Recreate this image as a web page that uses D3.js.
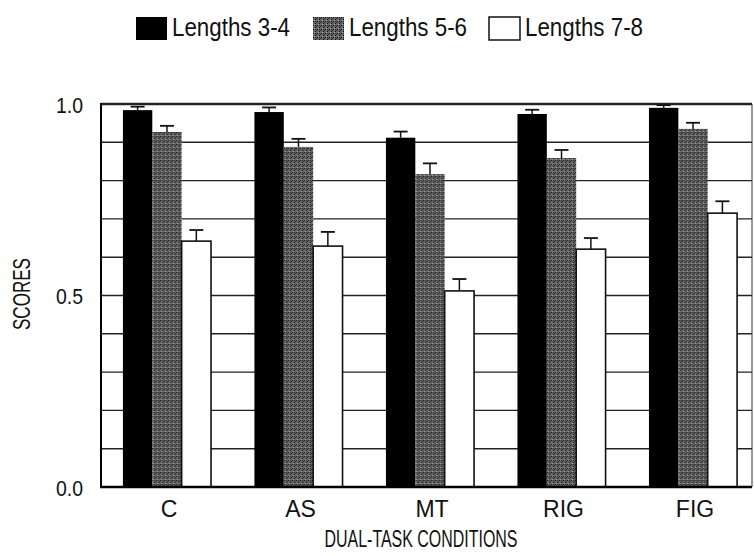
<!DOCTYPE html>
<html>
<head>
<meta charset="utf-8">
<script src="https://cdn.jsdelivr.net/npm/d3@7"></script>
<style>
    body { margin: 0; background: #fff; }
    text { font-family: "Liberation Sans", Arial, sans-serif; fill: #111; }
</style>
</head>
<body>
<div id="chart"></div>
<script>
// Conditions on the x axis
var conditions = ["C", "AS", "MT", "RIG", "FIG"];
// Series (list lengths)
var series = ["Lengths 3-4", "Lengths 5-6", "Lengths 7-8"];

// Mean scores per condition, one array per series
var scores34 = [0.984, 0.979, 0.912, 0.974, 0.990];
var scores56 = [0.927, 0.888, 0.817, 0.859, 0.935];
var scores78 = [0.642, 0.629, 0.512, 0.621, 0.715];

// Error bar sizes (upper half only)
var err34 = [0.009, 0.012, 0.016, 0.011, 0.007];
var err56 = [0.016, 0.021, 0.028, 0.021, 0.016];
var err78 = [0.029, 0.037, 0.031, 0.029, 0.031];

// Tick labels on the y axis
var yTicks = [0, 0.5, 1];
var yTickLabels = ["0.0", "0.5", "1.0"];
// Horizontal grid lines
var gridValues = [0.1, 0.2, 0.3, 0.4, 0.5, 0.6, 0.7, 0.8, 0.9, 1.0];

var width, height, svg, xScale, xInner, yScale;

function buildData() {
    var means = [scores34, scores56, scores78];
    var errs = [err34, err56, err78];
    var data = [];
    conditions.forEach(function (c, i) {
        series.forEach(function (s, j) {
            data.push({ condition: c, series: s, value: means[j][i], err: errs[j][i] });
        });
    });
    return data;
}

function fillFor(s) {
    if (s == series[0]) return "#000";
    if (s == series[1]) return "url(#mottle)";
    return "#fff";
}

function drawChart() {
    var data = buildData();
    var left = 101, right = 752, top = 104, bottom = 487;

    xScale = d3.scaleBand()
        .domain(conditions)
        .range([left, right])
        .paddingInner(0.33)
        .paddingOuter(0.14)
        .align(0.595);

    xInner = d3.scaleBand()
        .domain(series)
        .range([0, xScale.bandwidth()]);

    yScale = d3.scaleLinear()
        .domain([0, 1])
        .range([bottom, top]);

    // grey texture for the middle series (dark speckled halftone)
    var defs = svg.append("defs");
    var pat = defs.append("pattern")
        .attr("id", "mottle")
        .attr("width", 4)
        .attr("height", 4)
        .attr("patternUnits", "userSpaceOnUse");
    pat.append("rect").attr("width", 4).attr("height", 4).attr("fill", "#666");
    pat.append("rect").attr("width", 1).attr("height", 1).attr("fill", "#111");
    pat.append("rect").attr("x", 2).attr("y", 2).attr("width", 1).attr("height", 1).attr("fill", "#111");
    pat.append("rect").attr("x", 1).attr("y", 3).attr("width", 1).attr("height", 1).attr("fill", "#aaa");
    pat.append("rect").attr("x", 3).attr("y", 1).attr("width", 1).attr("height", 1).attr("fill", "#2a2a2a");
    pat.append("rect").attr("x", 2).attr("y", 0).attr("width", 1).attr("height", 1).attr("fill", "#333");

    // grid lines
    svg.append("g")
        .selectAll("line")
        .data(gridValues)
        .enter()
        .append("line")
        .attr("x1", left)
        .attr("x2", right)
        .attr("y1", function (d) { return yScale(d); })
        .attr("y2", function (d) { return yScale(d); })
        .attr("stroke", "#222")
        .attr("stroke-width", function (d) { return d == 1 ? 2.5 : 1.4; });

    // right edge of the frame
    svg.append("line")
        .attr("x1", right).attr("x2", right)
        .attr("y1", top).attr("y2", bottom)
        .attr("stroke", "#333")
        .attr("stroke-width", 1);

    // bars
    var groups = svg.append("g")
        .selectAll("g")
        .data(data)
        .enter()
        .append("g")
        .attr("transform", function (d) {
            return "translate(" + (xScale(d.condition) + xInner(d.series)) + ",0)";
        });

    groups.append("rect")
        .attr("x", 0)
        .attr("width", xInner.bandwidth())
        .attr("y", function (d) { return yScale(d.value); })
        .attr("height", function (d) { return yScale(0) - yScale(d.value); })
        .attr("fill", function (d) { return fillFor(d.series); })
        .attr("stroke", function (d) { return d.series == series[2] ? "#111" : "none"; })
        .attr("stroke-width", 1.6);

    // error bars, upward only
    var capHalf = 7;
    groups.append("line")
        .attr("x1", xInner.bandwidth() / 2)
        .attr("x2", xInner.bandwidth() / 2)
        .attr("y1", function (d) { return yScale(d.value); })
        .attr("y2", function (d) { return yScale(d.value + d.err); })
        .attr("stroke", "#111")
        .attr("stroke-width", 1.5);
    groups.append("line")
        .attr("x1", xInner.bandwidth() / 2 - capHalf)
        .attr("x2", xInner.bandwidth() / 2 + capHalf)
        .attr("y1", function (d) { return yScale(d.value + d.err); })
        .attr("y2", function (d) { return yScale(d.value + d.err); })
        .attr("stroke", "#111")
        .attr("stroke-width", 1.8);

    // axes lines
    svg.append("line")
        .attr("x1", left).attr("x2", left)
        .attr("y1", top - 1).attr("y2", bottom + 1)
        .attr("stroke", "#000").attr("stroke-width", 2);
    svg.append("line")
        .attr("x1", left - 1).attr("x2", right)
        .attr("y1", bottom).attr("y2", bottom)
        .attr("stroke", "#000").attr("stroke-width", 2.5);

    // y tick labels
    svg.append("g")
        .selectAll("text")
        .data(yTicks)
        .enter()
        .append("text")
        .attr("x", 83)
        .attr("y", function (d) { return yScale(d) + 3; })
        .attr("text-anchor", "end")
        .attr("dominant-baseline", "middle")
        .attr("textLength", 27)
        .attr("lengthAdjust", "spacingAndGlyphs")
        .style("font-size", "22px")
        .text(function (d, i) { return yTickLabels[i]; });

    // x category labels
    svg.append("g")
        .selectAll("text")
        .data(conditions)
        .enter()
        .append("text")
        .attr("x", function (d) { return xScale(d) + xScale.bandwidth() / 2 + 2; })
        .attr("y", 517)
        .attr("text-anchor", "middle")
        .style("font-size", "23px")
        .style("font-stretch", "condensed")
        .text(function (d) { return d; });

    // axis titles
    svg.append("text")
        .attr("x", 421)
        .attr("y", 547)
        .attr("text-anchor", "middle")
        .attr("textLength", 193)
        .attr("lengthAdjust", "spacingAndGlyphs")
        .style("font-size", "23px")
        .text("DUAL-TASK CONDITIONS");

    svg.append("text")
        .attr("transform", "translate(30,294) rotate(-90)")
        .attr("text-anchor", "middle")
        .attr("textLength", 72)
        .attr("lengthAdjust", "spacingAndGlyphs")
        .style("font-size", "23px")
        .text("SCORES");

    drawLegend();
}

function drawLegend() {
    var legendX = [136, 313, 489];
    var item = svg.append("g")
        .selectAll("g")
        .data(series)
        .enter()
        .append("g")
        .attr("transform", function (d, i) { return "translate(" + legendX[i] + ",17)"; });

    item.append("rect")
        .attr("width", 31)
        .attr("height", 23)
        .attr("fill", function (d) { return fillFor(d); })
        .attr("stroke", function (d) { return d == series[2] ? "#111" : "none"; })
        .attr("stroke-width", 1.5);

    item.append("text")
        .attr("x", 36)
        .attr("y", 12)
        .attr("dominant-baseline", "middle")
        .attr("textLength", 118)
        .attr("lengthAdjust", "spacingAndGlyphs")
        .style("font-size", "25px")
        .text(function (d) { return d; });
}

function init() {
    width = 754;
    height = 556;

    svg = d3.select("#chart")
        .append("svg")
        .attr("width", width)
        .attr("height", height);

    drawChart();
}

window.onload = init;
</script>
</body>
</html>
